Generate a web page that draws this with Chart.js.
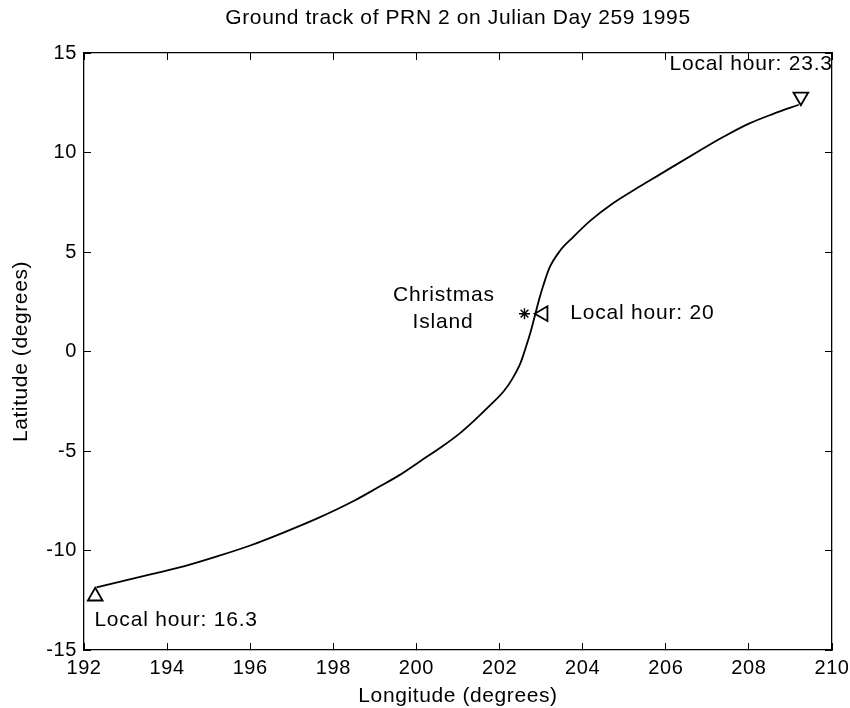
<!DOCTYPE html>
<html>
<head>
<meta charset="utf-8">
<title>Ground track of PRN 2</title>
<script src="https://cdn.jsdelivr.net/npm/chart.js@4"></script>
<style>
  html, body { margin: 0; padding: 0; background: #fff; }
  #wrap { width: 850px; height: 708px; }
</style>
</head>
<body>
<div id="wrap"><canvas id="track" width="850" height="708"></canvas></div>
<script>
// ground track (longitude, latitude in degrees)
const trackLon = [192.3, 193.0, 193.6, 194.4, 195.2, 196.0, 196.8, 197.6, 198.5, 199.1,
    199.6, 200.1, 200.6, 201.05, 201.4, 201.8, 202.1, 202.3, 202.5, 202.6,
    202.75, 202.85, 202.95, 203.05, 203.2, 203.45, 203.77, 204.2, 204.73, 205.3,
    205.86, 206.82, 207.4, 208.0, 208.6, 209.2];
const trackLat = [-11.85, -11.5, -11.2, -10.8, -10.3, -9.75, -9.1, -8.4, -7.5, -6.8,
    -6.2, -5.5, -4.8, -4.1, -3.45, -2.65, -2.0, -1.4, -0.6, 0.0,
    1.0, 1.8, 2.6, 3.3, 4.2, 5.05, 5.75, 6.6, 7.45, 8.2,
    8.9, 10.1, 10.8, 11.45, 11.95, 12.4];

// satellite position markers (start, middle, end)
const markerLon = [192.27, 203.05, 209.25];
const markerLat = [-12.3, 1.9, 12.8];
const markerRotation = [0, -90, 180];

// Christmas Island
const islandLon = [202.6];
const islandLat = [1.9];

// text notes: [text, lon, lat, align]
const notes = [
    ["Local hour: 16.3", 192.25, -13.5, "left"],
    ["Local hour: 20", 203.7, 1.9, "left"],
    ["Local hour: 23.3", 210.02, 14.45, "right"],
    ["Christmas", 200.66, 2.84, "center"],
    ["Island", 200.64, 1.48, "center"]
];

const xTicks = [192, 194, 196, 198, 200, 202, 204, 206, 208, 210];
const yTicks = [-15, -10, -5, 0, 5, 10, 15];

const fontFamily = "'Liberation Sans', Arial, sans-serif";

function toPoints(xs, ys) {
    return xs.map((x, i) => ({ x: x, y: ys[i] }));
}

// matlab-like inward ticks on every side
function frameAxis(position, size, extra) {
    let axis = {
        type: "linear",
        position: position,
        grid: { drawOnChartArea: false, drawTicks: true, tickLength: -7, color: "#000", lineWidth: 1 },
        border: { display: true, color: "#000", width: 1.3 },
        ticks: { display: false },
        afterFit: function (scale) {
            if (scale.isHorizontal()) scale.height = size; else scale.width = size;
            scale.paddingLeft = 0;
            scale.paddingRight = 0;
            scale.paddingTop = 0;
            scale.paddingBottom = 0;
        }
    };
    return Object.assign(axis, extra);
}

const spacingPlugin = {
    id: "spacing",
    beforeDraw(chart) {
        chart.ctx.letterSpacing = "0.6px";
    }
};

const notePlugin = {
    id: "notes",
    afterDatasetsDraw(chart) {
        let ctx = chart.ctx;
        let xs = chart.scales.x, ys = chart.scales.y;
        ctx.save();
        ctx.fillStyle = "#000";
        ctx.font = "21px " + fontFamily;
        ctx.letterSpacing = "0.8px";
        ctx.textBaseline = "middle";
        notes.forEach(n => {
            ctx.textAlign = n[3];
            ctx.fillText(n[0], xs.getPixelForValue(n[1]), ys.getPixelForValue(n[2]));
        });
        ctx.restore();
    }
};

new Chart(document.getElementById("track"), {
    type: "scatter",
    data: {
        datasets: [
            {
                label: "track",
                data: toPoints(trackLon, trackLat),
                showLine: true,
                borderColor: "#000",
                borderWidth: 1.8,
                pointRadius: 0,
                cubicInterpolationMode: "monotone"
            },
            {
                label: "satellite",
                data: toPoints(markerLon, markerLat),
                showLine: false,
                pointStyle: "triangle",
                pointRotation: markerRotation,
                pointRadius: 8.5,
                pointBorderColor: "#000",
                pointBackgroundColor: "#fff",
                pointBorderWidth: 1.8
            },
            {
                label: "island",
                data: toPoints(islandLon, islandLat),
                showLine: false,
                pointStyle: "star",
                pointRadius: 5.5,
                pointBorderColor: "#000",
                pointBorderWidth: 1.4
            }
        ]
    },
    options: {
        responsive: false,
        animation: false,
        layout: { padding: 0 },
        plugins: {
            legend: { display: false },
            tooltip: { enabled: false }
        },
        scales: {
            x: frameAxis("bottom", 58, {
                min: 192, max: 210,
                afterBuildTicks: s => { s.ticks = xTicks.map(v => ({ value: v })); },
                ticks: { display: true, color: "#000", padding: 13, maxRotation: 0, font: { family: fontFamily, size: 20 } },
                title: { display: true, text: "Longitude (degrees)", color: "#000", font: { family: fontFamily, size: 21, lineHeight: 1.1 }, padding: { top: 0, bottom: 0 } }
            }),
            y: frameAxis("left", 84, {
                min: -15, max: 15,
                afterBuildTicks: s => { s.ticks = yTicks.map(v => ({ value: v })); },
                ticks: { display: true, color: "#000", padding: 14, font: { family: fontFamily, size: 20 } },
                title: { display: true, text: "Latitude (degrees)", color: "#000", font: { family: fontFamily, size: 21, lineHeight: 1.1 }, padding: { top: 10, bottom: 0 } }
            }),
            // the top axis carries the chart title so it centres over the plot box
            x2: frameAxis("top", 53, {
                min: 192, max: 210,
                afterBuildTicks: s => { s.ticks = xTicks.map(v => ({ value: v })); },
                title: { display: true, text: "Ground track of PRN 2 on Julian Day 259 1995", color: "#000", font: { family: fontFamily, size: 21, lineHeight: 1.2 }, padding: { top: 6, bottom: 0 } }
            }),
            y2: frameAxis("right", 18, {
                min: -15, max: 15,
                afterBuildTicks: s => { s.ticks = yTicks.map(v => ({ value: v })); }
            })
        }
    },
    plugins: [spacingPlugin, notePlugin]
});
</script>
</body>
</html>
